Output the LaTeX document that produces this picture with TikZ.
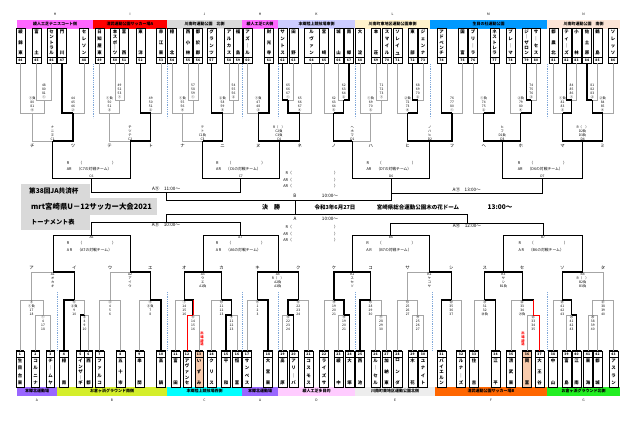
\documentclass[tikz,border=0pt]{standalone}
\usepackage{fontspec}
\setmainfont{Noto Sans CJK JP}
\usetikzlibrary{calc}
\definecolor{cVenH}{HTML}{FF66FF}
\definecolor{cVenI}{HTML}{FF0000}
\definecolor{cVenJ}{HTML}{D9D9D9}
\definecolor{cVenK}{HTML}{CCCCFF}
\definecolor{cVenL}{HTML}{FFF2CC}
\definecolor{cVenM}{HTML}{0099FF}
\definecolor{cVenN}{HTML}{FCE4D6}
\definecolor{cVenA}{HTML}{9966FF}
\definecolor{cVenB}{HTML}{D4EE2A}
\definecolor{cVenC}{HTML}{00FFFF}
\definecolor{cVenD}{HTML}{FFCCFF}
\definecolor{cVenE}{HTML}{EDEDED}
\definecolor{cVenF}{HTML}{FF6600}
\definecolor{cVenG}{HTML}{22EE22}
\definecolor{cTitle}{HTML}{D9D9D9}
\definecolor{cLose}{HTML}{A6A6A6}
\definecolor{cSep}{HTML}{7FA7D9}
\definecolor{cOut}{HTML}{F8CBAD}

\newcommand\jj{\par\vfill}
% team box at the top row: [width]{number}{x}{name}
\newcommand\topteam[4][9]{%
  \node[tbox,minimum width=#1pt] (t#2) at (#3,45.5) {};
  \draw[line width=.4pt] (t#2.west |- 0,57) -- (t#2.east |- 0,57);
  \draw[line width=1.1pt] (t#2.south west) -- (t#2.south east);
  \node[tnum] (n#2) at (#3,60.2) {#2};
  \node[tname] (w#2) at (#3,42.5) {\parbox[c][25pt][s]{9pt}{\centering #4}};
}
% team box at the bottom row
\newcommand\botteam[4][9]{%
  \node[tbox,minimum height=36pt,minimum width=#1pt] (t#2) at (#3,369) {};
  \draw[line width=.4pt] (t#2.west |- 0,357) -- (t#2.east |- 0,357);
  \draw[line width=1.1pt] (t#2.north west) -- (t#2.north east);
  \node[tnum] (n#2) at (#3,354.2) {#2};
  \node[tname] (w#2) at (#3,372) {\parbox[c][26pt][s]{9pt}{\centering #4}};
}
% bracket: left, right, level, name, left style, right style
\newcommand\mbrk[6]{%
  \coordinate (#4) at ($(#1 |- 0,#3)!.5!(#2 |- 0,#3)$);
  \draw[#5] (#1) |- (#4);
  \draw[#6] (#2) |- (#4);
}
\newcommand\tstk[2]{\node[stk,anchor=south] (s#1) at ([yshift=.7pt]#1) {#2};}
\newcommand\bstk[2]{\node[stk,anchor=north] (s#1) at ([yshift=-.7pt]#1) {#2};}
\newcommand\tkana[2]{\node[klab] (k#1) at (#1 |- 0,146) {#2};}
\newcommand\bkana[2]{\node[klab] (k#1) at (#1 |- 0,268) {#2};}
\newcommand\venue[8]{%
  \fill[#5] (#2,#4) rectangle (#3,#4+8.6);
  \node[vtxt] (#1) at ({(#2+#3)/2},#4+4.3) {#6};
  \node[vlet] (#1l) at ({(#2+#3)/2},#8) {#7};
}

\begin{document}
\begin{tikzpicture}[
  x=1pt,y=-1pt,
  tbox/.style={draw,line width=.5pt,inner sep=0pt,minimum height=35pt},
  tnum/.style={font=\fontsize{3.3}{4}\selectfont\bfseries,inner sep=0pt},
  tname/.style={font=\fontsize{4.4}{5}\selectfont\bfseries,inner sep=0pt},
  stk/.style={font=\fontsize{3.3}{4}\selectfont,align=center,inner sep=0pt},
  klab/.style={font=\fontsize{4.4}{5}\selectfont,inner sep=0pt},
  reft/.style={font=\fontsize{3.8}{6.5}\selectfont,inner sep=0pt},
  vtxt/.style={font=\fontsize{4}{4.5}\selectfont\bfseries,inner sep=0pt},
  vlet/.style={font=\fontsize{3.3}{4}\selectfont,inner sep=0pt},
  tim/.style={font=\fontsize{4.6}{5}\selectfont,inner sep=0pt},
  fin/.style={font=\fontsize{5.5}{6}\selectfont\bfseries,inner sep=0pt},
  ttl/.style={inner sep=0pt,anchor=west},
  lose/.style={cLose,line width=.7pt},
  win/.style={black,line width=1.1pt},
  main/.style={black,line width=.7pt},
  redway/.style={red,line width=.9pt},
  blksep/.style={cSep,line width=.7pt,dash pattern=on 1pt off .8pt},
]
\useasboundingbox (0,0) rectangle (640,421);
\fill[white] (0,0) rectangle (640,421);

% =====================================================================
% VENUES (top and bottom bars)
% =====================================================================
\venue{vH}{17}{93}{20}{cVenH}{綾人工芝テニスコート側}{H}{14.5}
\venue{vI}{93}{167}{20}{cVenI}{清武運動公園サッカー場A}{I}{14.5}
\venue{vJ}{167}{242}{20}{cVenJ}{川南町運動公園　北側}{J}{14.5}
\venue{vHb}{242}{278}{20}{cVenH}{綾人工芝C大側}{H}{14.5}
\venue{vK}{278}{355}{20}{cVenK}{本郷陸上競技場東側}{K}{14.5}
\venue{vL}{355}{430}{20}{cVenL}{川南町東地区運動公園東側}{L}{14.5}
\venue{vM}{430}{547}{20}{cVenM}{生目の杜運動公園}{M}{14.5}
\venue{vN}{547}{620}{20}{cVenN}{川南町運動公園　南側}{N}{14.5}

\venue{vA}{17}{57}{387}{cVenA}{本郷北運動場}{A}{400}
\venue{vB}{57}{167}{387}{cVenB}{お倉ヶ浜グラウンド南側}{B}{400}
\venue{vC}{167}{242}{387}{cVenC}{本郷陸上競技場西側}{C}{400}
\venue{vAb}{242}{278}{387}{cVenA}{本郷北運動場}{A}{400}
\venue{vD}{278}{355}{387}{cVenD}{綾人工芝多目的}{D}{400}
\venue{vE}{355}{435}{387}{cVenE}{川南町東地区運動公園北側}{E}{400}
\venue{vF}{435}{547}{387}{cVenF}{清武運動公園サッカー場B}{F}{400}
\venue{vG}{547}{620}{387}{cVenG}{お倉ヶ浜グラウンド北側}{G}{400}

% =====================================================================
% TEAMS
% =====================================================================
\topteam{44}{20.5}{綾\jj 錦\jj 東}
\topteam{45}{36.5}{富\jj 土}
\topteam{46}{51.5}{セ\jj ン\jj ト\jj ラ\jj ル}
\topteam{47}{62}{門\jj 川}
\topteam{48}{84}{セ\jj レ\jj ソ\jj ン}
\topteam{49}{99.5}{日\jj 知\jj 屋\jj 東}
\topteam{50}{115}{本\jj ス\jj ポ\jj ｜\jj ツ}
\topteam{51}{124}{富\jj 西}
\topteam{52}{140.5}{東\jj 洋}
\topteam{53}{161}{赤\jj 江\jj 東}
\topteam{54}{172}{檍\jj 北}
\topteam{55}{188}{西\jj 小\jj 林}
\topteam{56}{198}{都\jj 於\jj 郡}
\topteam{57}{211.5}{グ\jj ラ\jj ン\jj ツ}
\topteam{58}{229}{ア\jj ル\jj カ\jj ス}
\topteam{59}{238}{福\jj 島}
\topteam{60}{247.5}{ア\jj ズ\jj ｜\jj ル}
\topteam{61}{269}{財\jj 光\jj 寺}
\topteam{62}{282.5}{サ\jj ン\jj ト\jj ス}
\topteam{63}{293.5}{田\jj 野}
\topteam[15]{64}{311.5}{ル\jj ヴ\jj ァ\jj ン}
\topteam{65}{324}{宮\jj 崎}
\topteam{66}{338.5}{城\jj 山}
\topteam{67}{349}{南\jj 郷}
\topteam{68}{360}{大\jj 淀}
\topteam{69}{376}{本\jj 荘}
\topteam{70}{387}{ス\jj マ\jj イ\jj ル}
\topteam{71}{397.5}{ソ\jj レ\jj イ\jj ユ}
\topteam{72}{412.5}{東\jj 部}
\topteam{73}{423}{ジ\jj ェ\jj ン\jj ナ}
\topteam{74}{441.5}{ア\jj ド\jj ベ\jj ン\jj チ}
\topteam{75}{462.5}{国\jj 富}
\topteam{76}{473}{ブ\jj リ\jj ｜\jj ラ}
\topteam{77}{494.5}{ネ\jj ス\jj ト\jj レ\jj ラ}
\topteam{78}{510.5}{プ\jj レ\jj ｜\jj マ}
\topteam{79}{526.5}{ジ\jj ｜\jj ザ\jj ロ\jj ン}
\topteam{80}{536}{サ\jj ｜\jj セ\jj ス}
\topteam{81}{553.5}{都\jj 農\jj 北}
\topteam{82}{566.5}{テ\jj ィ\jj ｜\jj ズ}
\topteam{83}{576.5}{小\jj 林}
\topteam{84}{587}{佐\jj 土\jj 原}
\topteam{85}{597.5}{鶴\jj 島}
\topteam{86}{613}{ソ\jj レ\jj ッ\jj ソ}

% withdrawn teams
\fill[cOut] (195,351) rectangle (203,387);
\fill[cOut] (522.5,351) rectangle (531.5,387);

\botteam[8]{1}{20}{生\jj 目\jj 台\jj 東}
\botteam[8]{2}{35.5}{コ\jj ル\jj ニ\jj ナ}
\botteam[8]{3}{50.5}{チ\jj ｜\jj ム\jj ヤ}
\botteam{4}{64}{檍\jj 南}
\botteam[8]{5}{80.5}{イ\jj ン\jj ザ\jj ｜\jj ギ}
\botteam[8]{6}{88.5}{西\jj 都}
\botteam{7}{99.5}{フ\jj ァ\jj ル\jj コ}
\botteam{8}{120.5}{五\jj 十\jj 市}
\botteam{9}{139.5}{串\jj 間}
\botteam{10}{161}{高\jj 鍋}
\botteam{11}{175.5}{富\jj 田}
\botteam[8]{12}{187}{ア\jj ヴ\jj ァ\jj ン\jj セ}
\botteam[8]{13}{199}{い\jj ず\jj み}
\botteam{14}{211.5}{ク\jj リ\jj ス}
\botteam{15}{226}{平\jj 和}
\botteam{16}{237}{恒\jj 富}
\botteam{17}{247}{サ\jj ン\jj ペ\jj ス}
\botteam{18}{268}{大\jj 宮\jj 東}
\botteam{19}{282.5}{高\jj 原}
\botteam{20}{293.5}{ア\jj リ\jj ｜\jj バ}
\botteam{21}{308.5}{コ\jj ス\jj モ\jj ス}
\botteam{22}{324}{ラ\jj イ\jj ズ\jj サ}
\botteam{23}{338.5}{綾\jj 中}
\botteam{24}{349.5}{大\jj 塚}
\botteam{25}{360}{西\jj 池}
\botteam{26}{375.5}{ル\jj ｜\jj セ\jj ル}
\botteam{27}{386.5}{加\jj 納\jj 東}
\botteam{28}{397.5}{ロ\jj ン\jj ダ}
\botteam{29}{412.5}{木\jj 花}
\botteam{30}{423}{ユ\jj ナ\jj イ\jj ト}
\botteam{31}{441.5}{バ\jj イ\jj エ\jj ル\jj ン}
\botteam{32}{461}{ル\jj ナ\jj ｜\jj ズ}
\botteam{33}{474}{住\jj 吉}
\botteam{34}{495.5}{江\jj 平}
\botteam{35}{511}{清\jj 武\jj 東}
\botteam{36}{527}{岡\jj 富}
\botteam{37}{539.5}{大\jj 王\jj 谷}
\botteam{38}{553}{中\jj 山}
\botteam{39}{566.5}{富\jj 島}
\botteam{40}{576.5}{江\jj 南}
\botteam{41}{588}{東\jj 海}
\botteam{42}{597.5}{都\jj 城}
\botteam{43}{613.5}{ア\jj ス\jj ラ\jj ン}

% venue boundaries
\foreach \sx in {93,167,242.8,278,355,430,547}
  \draw[blksep] (\sx,64) -- (\sx,118);
\foreach \sx in {57,167,242,278,355,432,547}
  \draw[blksep] (\sx,292) -- (\sx,350);

% =====================================================================
% TOP HALF: first round
% =====================================================================
\mbrk{t45.south}{t46.south}{100}{p1}{lose}{lose}
\mbrk{t44.south}{p1}{113}{p2}{lose}{lose}
\mbrk{t47.south}{t48.south}{113}{p3}{win}{lose}
\mbrk{t50.south}{t51.south}{100}{p4}{lose}{lose}
\mbrk{t49.south}{p4}{113}{p5}{lose}{lose}
\mbrk{t52.south}{t53.south}{113}{p6}{win}{lose}
\mbrk{t55.south}{t56.south}{100}{p7}{lose}{lose}
\mbrk{t54.south}{p7}{113}{p8}{lose}{lose}
\mbrk{t58.south}{t59.south}{100}{p9}{lose}{lose}
\mbrk{t57.south}{p9}{113}{p10}{win}{lose}
\mbrk{t60.south}{t61.south}{113}{p11}{lose}{win}
\mbrk{t62.south}{t63.south}{100}{p12}{win}{lose}
\mbrk{p12}{t64.south}{113}{p13}{win}{lose}
\mbrk{t66.south}{t67.south}{100}{p14}{lose}{win}
\mbrk{t65.south}{p14}{113}{p15}{lose}{win}
\mbrk{t69.south}{t70.south}{100}{p16}{lose}{lose}
\mbrk{t68.south}{p16}{113}{p17}{lose}{lose}
\mbrk{t72.south}{t73.south}{100}{p18}{win}{lose}
\mbrk{t71.south}{p18}{113}{p19}{lose}{win}
\mbrk{t74.south}{t75.south}{113}{p20}{win}{lose}
\mbrk{t76.south}{t77.south}{113}{p21}{lose}{win}
\mbrk{t79.south}{t80.south}{100}{p22}{win}{lose}
\mbrk{t78.south}{p22}{113}{p23}{lose}{win}
\mbrk{t82.south}{t83.south}{100}{p24}{win}{lose}
\mbrk{t81.south}{p24}{113}{p25}{lose}{win}
\mbrk{t84.south}{t85.south}{100}{p26}{win}{lose}
\mbrk{p26}{t86.south}{113}{p27}{win}{lose}

\tstk{p1}{48\\80\\81\\①}
\tstk{p2}{①負\\80\\81\\④}
\tstk{p3}{44\\45\\46\\②}
\tstk{p4}{49\\52\\53\\①}
\tstk{p5}{①負\\50\\51\\③}
\tstk{p6}{49\\50\\51\\②}
\tstk{p7}{57\\58\\59\\①}
\tstk{p8}{①負\\55\\56\\④}
\tstk{p9}{54\\55\\56\\②}
\tstk{p10}{②負\\58\\59\\⑤}
\tstk{p11}{①負\\47\\48\\③}
\tstk{p12}{65\\66\\67\\①}
\tstk{p13}{65\\66\\67\\④}
\tstk{p14}{62\\63\\64\\②}
\tstk{p15}{62\\63\\64\\⑤}
\tstk{p16}{71\\72\\73\\①}
\tstk{p17}{①負\\69\\70\\③}
\tstk{p18}{68\\69\\70\\②}
\tstk{p19}{②負\\72\\73\\④}
\tstk{p20}{76\\77\\80\\①}
\tstk{p21}{①負\\74\\75\\②}
\tstk{p22}{74\\75\\76\\③}
\tstk{p23}{②負\\79\\80\\④}
\tstk{p24}{84\\85\\86\\①}
\tstk{p25}{①負\\82\\83\\③}
\tstk{p26}{81\\82\\83\\②}
\tstk{p27}{②負\\84\\85\\④}

% second and third round
\mbrk{p2}{p3}{141}{c1}{lose}{win}
\mbrk{p5}{p6}{141}{c2}{lose}{win}
\mbrk{p8}{p10}{141}{c3}{lose}{win}
\mbrk{p11}{p13}{141}{c4}{win}{win}
\mbrk{p15}{p17}{141}{d1}{win}{lose}
\mbrk{p19}{p20}{141}{d2}{win}{win}
\mbrk{p21}{p23}{141}{d3}{win}{win}
\mbrk{p25}{p27}{141}{d4}{win}{win}

\tkana{p2}{チ}\tkana{p3}{ツ}\tkana{p5}{テ}\tkana{p6}{ト}
\tkana{p8}{ナ}\tkana{p10}{ニ}\tkana{p11}{ヌ}\tkana{p13}{ネ}
\tkana{p15}{ノ}\tkana{p17}{ハ}\tkana{p19}{ヒ}\tkana{p20}{フ}
\tkana{p21}{ヘ}\tkana{p23}{ホ}\tkana{p25}{マ}\tkana{p27}{ミ}

\tstk{c1}{ナ\\ニ\\ヌ\\C1}
\tstk{c2}{チ\\ツ\\テ\\C2}
\tstk{c3}{テ\\ト\\C1負\\C3}
\tstk{c4}{R（　）\\C2負\\C3負\\C4}
\tstk{d1}{ヘ\\ホ\\マ\\D1}
\tstk{d2}{ノ\\ハ\\ヒ\\D2}
\tstk{d3}{ヒ\\フ\\D1負\\D3}
\tstk{d4}{R（　）\\D2負\\D3負\\D4}

\mbrk{c1}{c2}{178}{c6}{main}{main}
\mbrk{c3}{c4}{178}{c7}{main}{main}
\mbrk{d1}{d2}{178}{d6}{main}{main}
\mbrk{d3}{d4}{178}{d7}{main}{main}
\foreach \m/\opp in {c6/C7,c7/C6,d6/D7,d7/D6}{
  \node[stk,anchor=south] (l\m) at ([yshift=.7pt]\m) {\MakeUppercase{\m}};
  \node[reft,anchor=south,align=left] (r\m) at ([yshift=6.5pt]\m)
    {R\hspace{9pt}（\hspace{30pt}）\\AR\hspace{5pt}（\opp の対戦チーム）};
}

% =====================================================================
% BOTTOM HALF: first round
% =====================================================================
\mbrk{t2.north}{t3.north}{315}{q1}{lose}{lose}
\mbrk{t1.north}{q1}{300}{q5}{lose}{lose}
\mbrk{t5.north}{t6.north}{315}{q2}{win}{lose}
\mbrk{t4.north}{q2}{300}{q6}{win}{lose}
\mbrk{t7.north}{t8.north}{300}{q3}{lose}{lose}
\mbrk{t9.north}{t10.north}{300}{q4}{lose}{win}
\mbrk{t12.north}{t13.north}{315}{q8}{redway}{lose}
\mbrk{t11.north}{q8}{300}{q7}{lose}{win}
\draw[redway] (q8) -- (q8 |- q7);
\mbrk{t15.north}{t16.north}{315}{q9}{win}{lose}
\mbrk{t14.north}{q9}{300}{q10}{lose}{win}
\mbrk{t17.north}{t18.north}{300}{q11}{lose}{win}
\mbrk{t19.north}{t20.north}{315}{q12}{lose}{win}
\mbrk{q12}{t21.north}{300}{q13}{win}{lose}
\mbrk{t23.north}{t24.north}{315}{q15}{lose}{win}
\mbrk{t22.north}{q15}{300}{q14}{lose}{win}
\mbrk{t26.north}{t27.north}{315}{q17}{lose}{lose}
\mbrk{t25.north}{q17}{300}{q16}{win}{lose}
\mbrk{t29.north}{t30.north}{315}{q19}{lose}{lose}
\mbrk{t28.north}{q19}{300}{q18}{lose}{lose}
\mbrk{t31.north}{t32.north}{300}{q20}{win}{lose}
\mbrk{t33.north}{t34.north}{300}{q21}{lose}{win}
\mbrk{t36.north}{t37.north}{315}{q23}{lose}{redway}
\mbrk{t35.north}{q23}{300}{q22}{lose}{win}
\draw[redway] (q23) -- (q23 |- q22);
\mbrk{t39.north}{t40.north}{315}{q25}{lose}{win}
\mbrk{t38.north}{q25}{300}{q24}{lose}{win}
\mbrk{t41.north}{t42.north}{315}{q26}{lose}{lose}
\mbrk{q26}{t43.north}{300}{q27}{lose}{lose}

\node[stk,text=red,font=\fontsize{3.3}{3.8}\selectfont\bfseries] (wd13) at (202,339) {出\\場\\辞\\退};
\node[stk,text=red,font=\fontsize{3.3}{3.8}\selectfont\bfseries] (wd36) at (523,339) {出\\場\\辞\\退};

\bstk{q1}{①\\4\\17\\18}
\bstk{q5}{⑤\\①負\\17\\18}
\bstk{q2}{②\\4\\9\\10}
\bstk{q6}{⑥\\②負\\9\\10}
\bstk{q3}{③\\4\\5\\6}
\bstk{q4}{④\\③負\\7\\8}
\bstk{q7}{⑦\\14\\15\\16}
\bstk{q8}{⑧\\14\\15\\16}
\bstk{q9}{⑨\\11\\12\\13}
\bstk{q10}{⑩\\11\\12\\13}
\bstk{q11}{⑪\\1\\2\\3}
\bstk{q12}{⑫\\22\\23\\24}
\bstk{q13}{⑬\\22\\23\\24}
\bstk{q14}{⑭\\19\\20\\21}
\bstk{q15}{⑮\\19\\20\\21}
\bstk{q16}{⑯\\28\\29\\30}
\bstk{q17}{⑰\\28\\29\\30}
\bstk{q18}{⑱\\25\\26\\27}
\bstk{q19}{⑲\\25\\26\\27}
\bstk{q20}{⑳\\35\\36\\37}
\bstk{q21}{㉑\\31\\32\\⑳負}
\bstk{q22}{㉒\\33\\34\\㉑負}
\bstk{q23}{㉓\\33\\34\\35}
\bstk{q24}{㉔\\41\\42\\43}
\bstk{q25}{㉕\\41\\42\\43}
\bstk{q26}{㉖\\38\\39\\40}
\bstk{q27}{㉗\\38\\39\\40}

% second and third round
\mbrk{q5}{q6}{272}{a1}{lose}{win}
\mbrk{q3}{q4}{272}{a2}{lose}{win}
\mbrk{q7}{q10}{272}{a3}{win}{win}
\mbrk{q11}{q13}{272}{a4}{win}{win}
\mbrk{q14}{q16}{272}{b1}{win}{win}
\mbrk{q18}{q20}{272}{b2}{lose}{win}
\mbrk{q21}{q22}{272}{b3}{win}{win}
\mbrk{q24}{q27}{272}{b4}{win}{lose}

\bkana{q5}{ア}\bkana{q6}{イ}\bkana{q3}{ウ}\bkana{q4}{エ}
\bkana{q7}{オ}\bkana{q10}{カ}\bkana{q11}{キ}\bkana{q13}{ク}
\bkana{q14}{ケ}\bkana{q16}{コ}\bkana{q18}{サ}\bkana{q20}{シ}
\bkana{q21}{ス}\bkana{q22}{セ}\bkana{q24}{ソ}\bkana{q27}{タ}

\bstk{a1}{A1\\オ\\カ\\キ}
\bstk{a2}{A2\\ア\\イ\\ウ}
\bstk{a3}{A3\\ウ\\エ\\A1負}
\bstk{a4}{A4\\R（　）\\A2負\\A3負}
\bstk{b1}{B1\\ス\\セ\\ソ}
\bstk{b2}{B2\\ケ\\コ\\サ}
\bstk{b3}{B3\\サ\\シ\\B1負}
\bstk{b4}{B4\\R（　）\\B2負\\B3負}

\mbrk{a1}{a2}{235}{a6}{main}{main}
\mbrk{a3}{a4}{235}{a7}{main}{main}
\mbrk{b1}{b2}{235}{b6}{main}{main}
\mbrk{b3}{b4}{235}{b7}{main}{main}
\foreach \m/\opp in {a6/A7,a7/A6,b6/B7,b7/B6}{
  \node[stk,anchor=north] (l\m) at ([yshift=-.7pt]\m) {\MakeUppercase{\m}};
  \node[reft,anchor=north,align=left] (r\m) at ([yshift=-6.5pt]\m)
    {R\hspace{9pt}（\hspace{30pt}）\\A\,R\hspace{5pt}（\opp の対戦チーム）};
}

% =====================================================================
% SEMI-FINALS AND FINAL
% =====================================================================
\mbrk{c6}{c7}{192}{cs}{main}{main}
\coordinate (fB) at (295,200);
\coordinate (fA) at (295,214);
\draw[main] (cs) |- (fB);
\draw[main] (d6) |- (fB);
\draw[main] (d7) |- (d6 |- 0,193);
\coordinate (ds) at ($(d6 |- 0,193)!.5!(d7 |- 0,193)$);
\draw[main] (fB) -- (fA);
\mbrk{a6}{a7}{222}{as}{main}{main}
\mbrk{b6}{b7}{223}{bs}{main}{main}
\draw[main] (as) |- (fA);
\draw[main] (bs) |- (fA);

\node[tim,anchor=south] (tcs) at ([yshift=.8pt]cs) {A⑨\quad 11:00～};
\node[tim,anchor=south] (tds) at ([yshift=.8pt]ds) {A⑪\quad 13:00～};
\node[tim,anchor=north] (tas) at ([yshift=-.8pt]as) {A⑧\quad 10:00～};
\node[tim,anchor=north] (tbs) at ([yshift=-.8pt]bs) {A⑩\quad 12:00～};

\node[tim] (lB) at (295,195.5) {B};
\node[tim] (lA) at (295,218.5) {A};
\node[tim] (tmB) at (330,195.5) {10:00～};
\node[tim] (tmA) at (330,218.5) {10:00～};
\node[reft,anchor=east,align=right] (rfB) at (292,180) {R（\\AR（\\AR（};
\node[reft,align=left] (rfBc) at (336,180) {）\\）\\）};
\node[reft,anchor=east,align=right] (rfA) at (292,234) {R（\\AR（\\AR（};
\node[reft,align=left] (rfAc) at (336,234) {）\\）\\）};

\node[fin,font=\fontsize{6}{7}\selectfont\bfseries] (lfin) at (271,207) {決　勝};
\node[fin] (fdate) at (335,207) {令和3年6月27日};
\node[fin] (fplace) at (418,207) {宮崎県総合運動公園木の花ドーム};
\node[fin,font=\fontsize{6.5}{7}\selectfont\bfseries] (ftime) at (500,207.5) {13:00～};

% =====================================================================
% TITLE
% =====================================================================
\fill[cTitle] (21,184) rectangle (90,198);
\fill[cTitle] (21,198) rectangle (157,215);
\fill[cTitle] (21,215) rectangle (90,230);
\node[ttl,font=\fontsize{6.6}{7}\selectfont\bfseries] (ttl1) at (29,191) {第38回JA共済杯};
\node[ttl,font=\fontsize{7.4}{8}\selectfont\bfseries] (ttl2) at (31,207) {mrt宮崎県U－12サッカー大会2021};
\node[ttl,font=\fontsize{6.2}{7}\selectfont\bfseries] (ttl3) at (31,222) {トーナメント表};

\end{tikzpicture}
\end{document}
